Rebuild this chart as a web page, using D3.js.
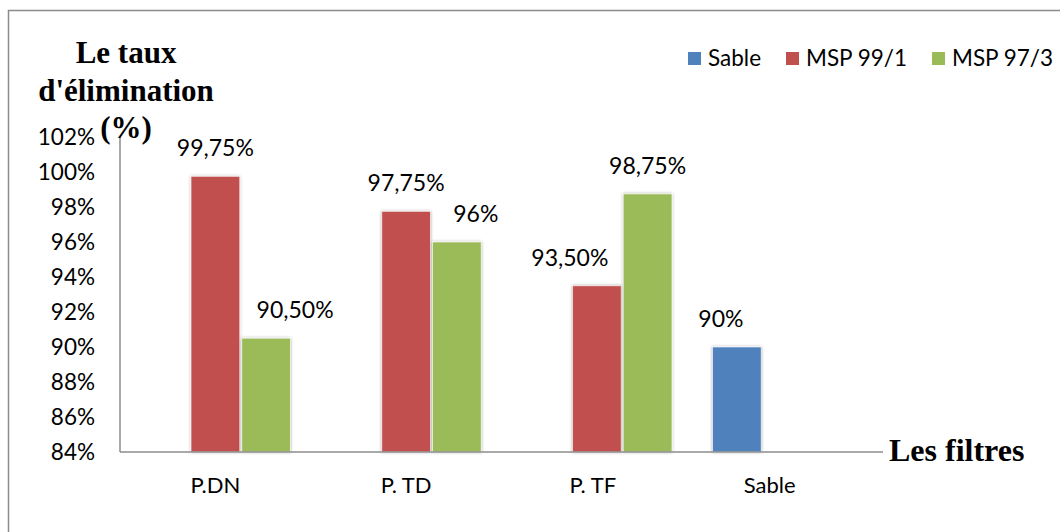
<!DOCTYPE html>
<html>
<head>
<meta charset="utf-8">
<script src="https://cdn.jsdelivr.net/npm/d3@7"></script>
<style>
  body { margin: 0; background: #fff; }
  svg { display: block; }
</style>
</head>
<body>
<div id="chart"></div>
<script>
// categories and series
const filtres = ["P.DN", "P. TD", "P. TF", "Sable"]
const series = ["Sable", "MSP 99/1", "MSP 97/3"]

// values per series (null = no bar)
const sable = [null, null, null, 90]
const msp991 = [99.75, 97.75, 93.5, null]
const msp973 = [90.5, 96, 98.75, null]

const yTicks = [84, 86, 88, 90, 92, 94, 96, 98, 100, 102]

const colors = ["#4F81BD", "#C0504D", "#9BBB59"]

// manual label nudges (like the excel labels that were dragged)
const labelShift = { "P.DN|MSP 97/3": 29, "P. TD|MSP 97/3": 19, "P. TF|MSP 99/1": -27, "Sable|Sable": -16 }
const catShift = { "P. TF": -4, "Sable": -18 }

const W = 1060, H = 532
const plot = { left: 120, right: 883, top: 137, bottom: 452 }
const txtFont = "Lato, 'Open Sans', sans-serif"

const svg = d3.select("#chart").append("svg")
    .attr("width", W)
    .attr("height", H)

// shadow for the bars
const defs = svg.append("defs")
const f = defs.append("filter").attr("id", "shadow")
    .attr("x", "-20%").attr("y", "-10%").attr("width", "140%").attr("height", "120%")
f.append("feDropShadow").attr("dx", 0).attr("dy", 0).attr("stdDeviation", 1.6)
    .attr("flood-color", "#000").attr("flood-opacity", 0.35)

// outer frame (runs off the picture on right and bottom)
svg.append("rect")
    .attr("x", 8.5).attr("y", 10.5)
    .attr("width", W + 20).attr("height", H + 20)
    .attr("fill", "none")
    .attr("stroke", "#8c8c8c")
    .attr("stroke-width", 1.5)

const x = d3.scaleBand()
    .domain(filtres)
    .range([plot.left, plot.right])

const xs = d3.scaleBand()
    .domain(series)
    .range([0, x.bandwidth()])
    .paddingInner(0.04)
    .paddingOuter(0.4)

const y = d3.scaleLinear()
    .domain([84, 102])
    .range([plot.bottom, plot.top])

// y tick labels
const yAxis = d3.axisLeft(y)
    .tickValues(yTicks)
    .tickFormat(d => d + "%")
    .tickSize(0)
    .tickPadding(25)
const gy = svg.append("g")
    .attr("transform", "translate(" + plot.left + ",0)")
    .call(yAxis)
gy.select(".domain").remove()
gy.selectAll("text")
    .style("font-family", txtFont)
    .style("font-size", "22.5px")
    .attr("fill", "#000")

// bars
const rows = []
const vals = [sable, msp991, msp973]
filtres.forEach((c, ci) => {
    series.forEach((s, si) => {
        if (vals[si][ci] != null) rows.push({ cat: c, ser: s, si: si, v: vals[si][ci] })
    })
})

svg.selectAll("rect.bar")
    .data(rows)
    .enter()
    .append("rect")
    .attr("class", "bar")
    .attr("x", d => x(d.cat) + xs(d.ser))
    .attr("y", d => y(d.v))
    .attr("width", xs.bandwidth())
    .attr("height", d => y(84) - y(d.v))
    .attr("fill", d => colors[d.si])
    .attr("stroke", "rgba(255,255,255,0.6)")
    .attr("stroke-width", 1)
    .attr("filter", "url(#shadow)")

// value labels
const fmt = v => Number.isInteger(v) ? v + "%" : v.toFixed(2).replace(".", ",") + "%"
svg.selectAll("text.val")
    .data(rows)
    .enter()
    .append("text")
    .attr("class", "val")
    .attr("x", d => x(d.cat) + xs(d.ser) + xs.bandwidth() / 2 + (labelShift[d.cat + "|" + d.ser] || 0))
    .attr("y", d => y(d.v) - 20)
    .attr("text-anchor", "middle")
    .style("font-family", txtFont)
    .style("font-size", "23px")
    .text(d => fmt(d.v))

// axis lines
svg.append("line")
    .attr("x1", plot.left).attr("x2", plot.left)
    .attr("y1", plot.top).attr("y2", plot.bottom)
    .attr("stroke", "#8c8c8c").attr("stroke-width", 1.5)
svg.append("line")
    .attr("x1", plot.left).attr("x2", plot.right)
    .attr("y1", plot.bottom).attr("y2", plot.bottom)
    .attr("stroke", "#8c8c8c").attr("stroke-width", 1.5)

// category labels
const xAxis = d3.axisBottom(x).tickSize(0).tickPadding(25)
const gx = svg.append("g")
    .attr("transform", "translate(0," + plot.bottom + ")")
    .call(xAxis)
gx.select(".domain").remove()
gx.selectAll("text")
    .style("font-family", txtFont)
    .style("font-size", "22px")
    .attr("fill", "#000")
    .attr("dx", d => catShift[d] || 0)

// axis titles
const titleLines = ["Le taux", "d'élimination", "(%)"]
svg.append("g").selectAll("text")
    .data(titleLines)
    .enter()
    .append("text")
    .attr("x", 126)
    .attr("y", (d, i) => 63 + i * 37.5)
    .attr("text-anchor", "middle")
    .style("font-family", "'Liberation Serif', 'Times New Roman', serif")
    .style("font-weight", "bold")
    .style("font-size", "31px")
    .text(d => d)

svg.append("text")
    .attr("x", 889)
    .attr("y", 461)
    .style("font-family", "'Liberation Serif', 'Times New Roman', serif")
    .style("font-weight", "bold")
    .style("font-size", "32px")
    .text("Les filtres")

// legend
const legX = [688, 786, 932]
const leg = svg.append("g").selectAll("g")
    .data(series)
    .enter()
    .append("g")
    .attr("transform", (d, i) => "translate(" + legX[i] + ",52)")
leg.append("rect")
    .attr("width", 13).attr("height", 13)
    .attr("fill", (d, i) => colors[i])
leg.append("text")
    .attr("x", 20)
    .attr("y", 14)
    .style("font-family", txtFont)
    .style("font-size", "22.5px")
    .text(d => d)
</script>
</body>
</html>
